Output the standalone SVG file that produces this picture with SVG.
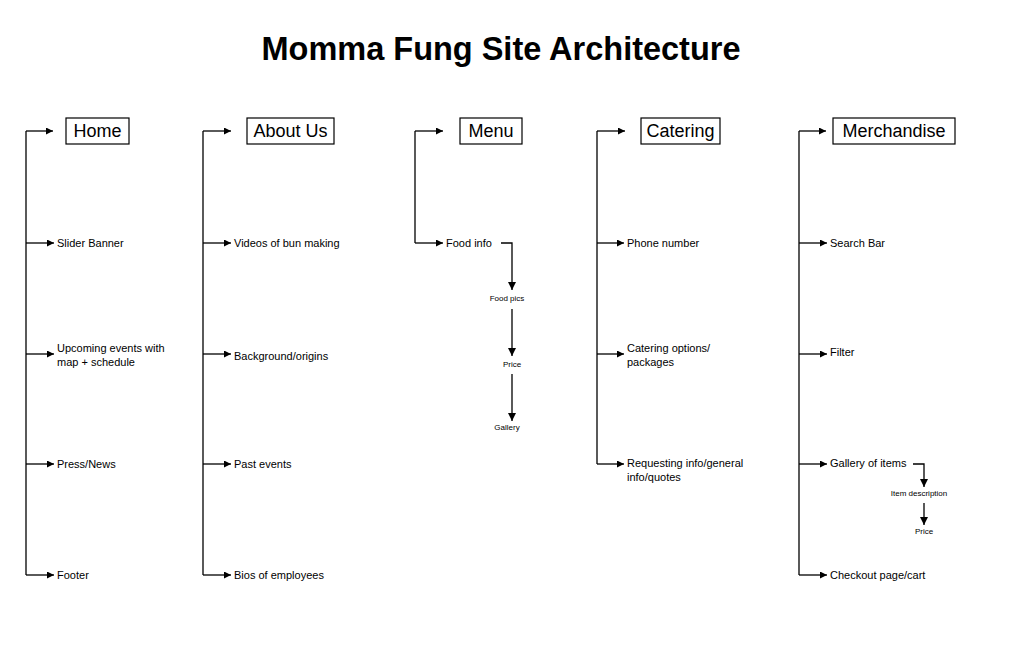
<svg xmlns="http://www.w3.org/2000/svg" width="1024" height="662" viewBox="0 0 1024 662">
<defs>
<marker id="ah" viewBox="0 0 10 10" refX="10" refY="5" markerWidth="7" markerHeight="7" markerUnits="userSpaceOnUse" orient="auto"><path d="M0,0 L10,5 L0,10 Z" fill="#000"/></marker>
<marker id="ahs" viewBox="0 0 10 10" refX="10" refY="5" markerWidth="8" markerHeight="8" markerUnits="userSpaceOnUse" orient="auto"><path d="M0,0 L10,5 L0,10 Z" fill="#000"/></marker>
</defs>
<style>
.ln{stroke:#000;stroke-width:1.3;fill:none}
.ar{stroke:#000;stroke-width:1.3;fill:none;marker-end:url(#ah)}
.ard{stroke:#000;stroke-width:1.3;fill:none;marker-end:url(#ahs)}
.box{fill:#fff;stroke:#000;stroke-width:1.2}
.hd{font-family:"Liberation Sans",Arial,sans-serif;font-size:18px;fill:#000;text-anchor:middle}
.lb{font-family:"Liberation Sans",Arial,sans-serif;font-size:11px;fill:#000}
.sm{font-family:"Liberation Sans",Arial,sans-serif;font-size:8px;fill:#000;text-anchor:middle}
.tt{font-family:"Liberation Sans",Arial,sans-serif;font-size:32.5px;font-weight:bold;fill:#000;text-anchor:middle}
</style>
<rect width="1024" height="662" fill="#fff"/>
<text class="tt" x="501" y="60" textLength="479" lengthAdjust="spacingAndGlyphs">Momma Fung Site Architecture</text>

<g id="connectors">
<path class="ln" d="M26,131 V575"/>
<path class="ar" d="M26,131 H53"/>
<path class="ar" d="M26,243 H54"/>
<path class="ar" d="M26,354 H54"/>
<path class="ar" d="M26,464 H54"/>
<path class="ar" d="M26,575 H54"/>
<path class="ln" d="M203,131 V575"/>
<path class="ar" d="M203,131 H231"/>
<path class="ar" d="M203,243 H231"/>
<path class="ar" d="M203,354 H231"/>
<path class="ar" d="M203,464 H231"/>
<path class="ar" d="M203,575 H231"/>
<path class="ln" d="M415,131 V243"/>
<path class="ar" d="M415,131 H443"/>
<path class="ar" d="M415,243 H443"/>
<path class="ard" d="M501,243 H512 V290"/>
<path class="ard" d="M512,309 V356"/>
<path class="ard" d="M512,374 V421"/>
<path class="ln" d="M597,131 V464"/>
<path class="ar" d="M597,131 H625"/>
<path class="ar" d="M597,243 H624"/>
<path class="ar" d="M597,354 H624"/>
<path class="ar" d="M597,464 H624"/>
<path class="ln" d="M799,131 V575"/>
<path class="ar" d="M799,131 H826"/>
<path class="ar" d="M799,243 H827"/>
<path class="ar" d="M799,354 H827"/>
<path class="ar" d="M799,464 H827"/>
<path class="ar" d="M799,575 H827"/>
<path class="ard" d="M913,464 H924 V487"/>
<path class="ard" d="M924,503 V525"/>
</g>

<g id="home">
<rect class="box" x="66" y="118" width="63" height="26"/>
<text class="hd" x="97.5" y="137">Home</text>
</g>
<g id="home-slider"><text class="lb" x="57" y="247">Slider Banner</text></g>
<g id="home-events"><text class="lb" x="57" y="352">Upcoming events with</text><text class="lb" x="57" y="366">map + schedule</text></g>
<g id="home-press"><text class="lb" x="57" y="468">Press/News</text></g>
<g id="home-footer"><text class="lb" x="57" y="579">Footer</text></g>

<g id="about">
<rect class="box" x="247" y="118" width="87" height="26"/>
<text class="hd" x="290.5" y="137">About Us</text>
</g>
<g id="about-videos"><text class="lb" x="234" y="247">Videos of bun making</text></g>
<g id="about-background"><text class="lb" x="234" y="360">Background/origins</text></g>
<g id="about-past"><text class="lb" x="234" y="468">Past events</text></g>
<g id="about-bios"><text class="lb" x="234" y="579">Bios of employees</text></g>

<g id="menu">
<rect class="box" x="460" y="118" width="62" height="26"/>
<text class="hd" x="491" y="137">Menu</text>
</g>
<g id="menu-foodinfo"><text class="lb" x="446" y="247">Food info</text></g>
<g id="menu-foodpics"><text class="sm" x="507" y="301">Food pics</text></g>
<g id="menu-price"><text class="sm" x="512" y="367">Price</text></g>
<g id="menu-gallery"><text class="sm" x="507" y="430">Gallery</text></g>

<g id="catering">
<rect class="box" x="641" y="118" width="79" height="26"/>
<text class="hd" x="680.5" y="137">Catering</text>
</g>
<g id="catering-phone"><text class="lb" x="627" y="247">Phone number</text></g>
<g id="catering-options"><text class="lb" x="627" y="352">Catering options/</text><text class="lb" x="627" y="366">packages</text></g>
<g id="catering-request"><text class="lb" x="627" y="467">Requesting info/general</text><text class="lb" x="627" y="481">info/quotes</text></g>

<g id="merchandise">
<rect class="box" x="833" y="118" width="122" height="26"/>
<text class="hd" x="894" y="137">Merchandise</text>
</g>
<g id="merch-search"><text class="lb" x="830" y="247">Search Bar</text></g>
<g id="merch-filter"><text class="lb" x="830" y="356">Filter</text></g>
<g id="merch-gallery"><text class="lb" x="830" y="467">Gallery of items</text></g>
<g id="merch-itemdesc"><text class="sm" x="919" y="496">Item description</text></g>
<g id="merch-price"><text class="sm" x="924" y="534">Price</text></g>
<g id="merch-checkout"><text class="lb" x="830" y="579">Checkout page/cart</text></g>
</svg>
